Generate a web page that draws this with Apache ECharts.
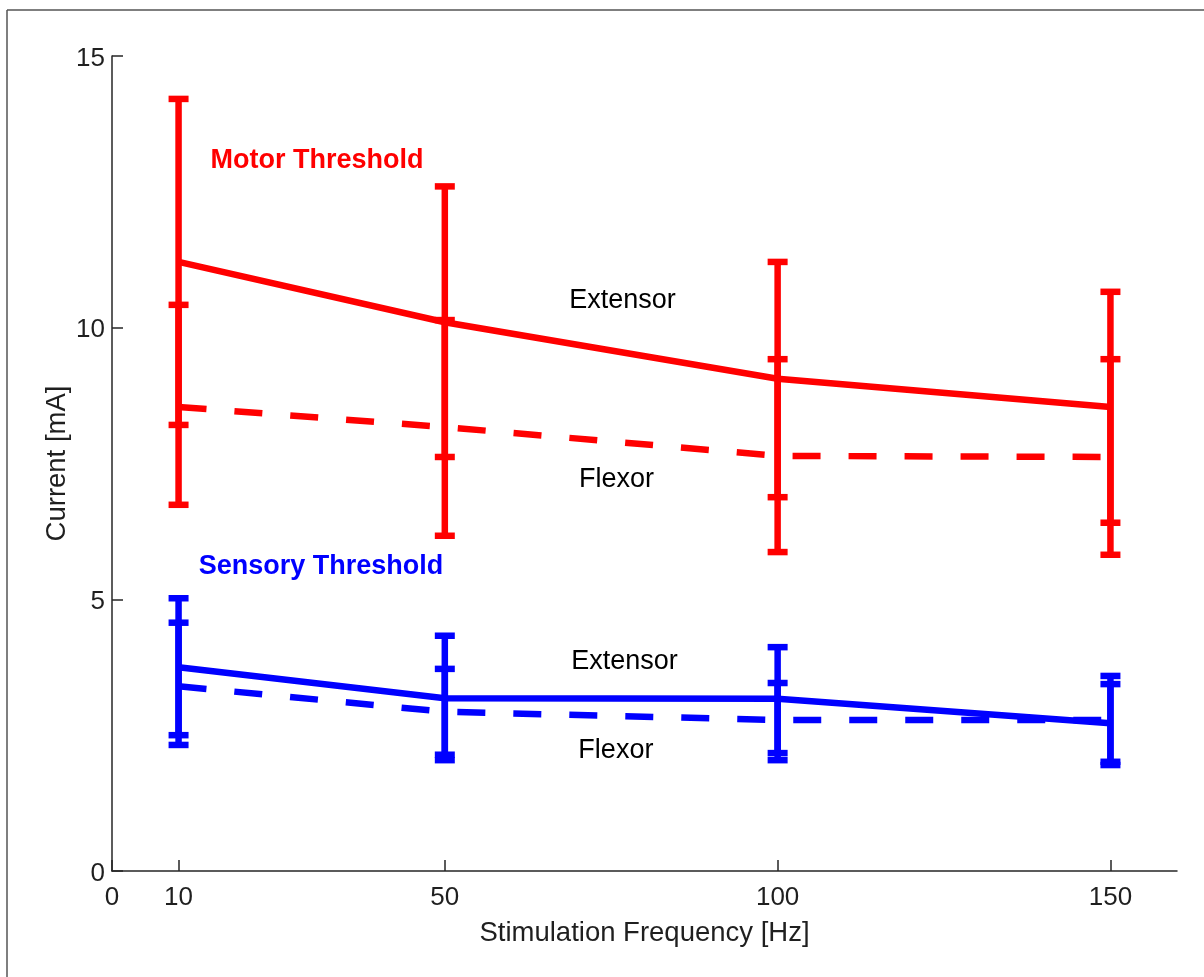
<!DOCTYPE html>
<html><head><meta charset="utf-8">
<script src="https://cdn.jsdelivr.net/npm/echarts@6/dist/echarts.min.js"></script>
<style>html,body{margin:0;padding:0;background:#fff}#c{width:1204px;height:977px}</style>
</head><body><div id="c"></div>
<script>
// ---- data ----
const freq = [10, 50, 100, 150];
const xTickValues = [0, 10, 50, 100, 150];

const motorExt      = [11.21, 10.10, 9.06, 8.54];
const motorExtHigh  = [14.21, 12.60, 11.21, 10.66];
const motorExtLow   = [8.21, 7.62, 6.88, 6.41];
const motorFlex     = [8.54, 8.17, 7.64, 7.62];
const motorFlexHigh = [10.42, 10.14, 9.42, 9.42];
const motorFlexLow  = [6.74, 6.17, 5.87, 5.82];

const sensExt       = [3.75, 3.18, 3.17, 2.72];
const sensExtHigh   = [5.02, 4.33, 4.12, 3.59];
const sensExtLow    = [2.50, 2.04, 2.17, 1.95];
const sensFlex      = [3.40, 2.93, 2.78, 2.78];
const sensFlexHigh  = [4.57, 3.72, 3.46, 3.44];
const sensFlexLow   = [2.32, 2.14, 2.04, 2.01];

const annoText = ['Motor Threshold', 'Extensor', 'Flexor', 'Sensory Threshold', 'Extensor', 'Flexor'];
const annoX    = [30.8, 76.7, 75.8, 31.4, 77.0, 75.7];
const annoY    = [13.08, 10.49, 7.21, 5.61, 3.85, 2.21];
const annoKind = ['motor', 'plain', 'plain', 'sensory', 'plain', 'plain'];

// ---- styles ----
const RED = '#ff0000', BLUE = '#0000ff', AX = '#262626', TXT = '#1f1f1f';
const FONT = '"Liberation Sans", Arial, Helvetica, sans-serif';
const LW = 6.5;

function pairs(xs, ys) { return xs.map((x, i) => [x, ys[i]]); }
function triples(xs, lo, hi) { return xs.map((x, i) => [x, lo[i], hi[i]]); }

function lineSeries(name, data, color, dashed) {
  return {
    name, type: 'line', data: pairs(freq, data), symbol: 'none', showSymbol: false,
    lineStyle: { color, width: LW, type: dashed ? [28, 28] : 'solid', cap: 'butt', join: 'miter' },
    silent: true, z: 3, animation: false
  };
}
function errSeries(name, lo, hi, color) {
  return {
    name, type: 'custom', data: triples(freq, lo, hi), z: 4, silent: true, animation: false,
    renderItem(params, api) {
      const x = api.value(0);
      const pLo = api.coord([x, api.value(1)]);
      const pHi = api.coord([x, api.value(2)]);
      const hw = 10;
      const st = { stroke: color, lineWidth: LW, lineCap: 'butt' };
      return {
        type: 'group', children: [
          { type: 'line', shape: { x1: pLo[0], y1: pLo[1], x2: pHi[0], y2: pHi[1] }, style: st },
          { type: 'line', shape: { x1: pLo[0] - hw, y1: pLo[1], x2: pLo[0] + hw, y2: pLo[1] }, style: st },
          { type: 'line', shape: { x1: pHi[0] - hw, y1: pHi[1], x2: pHi[0] + hw, y2: pHi[1] }, style: st }
        ]
      };
    }
  };
}

const annoData = annoText.map((t, i) => {
  const k = annoKind[i];
  return {
    value: [annoX[i], annoY[i]],
    label: {
      show: true, position: 'inside', formatter: t, fontFamily: FONT, opacity: 1,
      fontSize: 27, fontWeight: k === 'plain' ? 'normal' : 'bold',
      color: k === 'motor' ? RED : (k === 'sensory' ? BLUE : '#000')
    }
  };
});

const chart = echarts.init(document.getElementById('c'), null, { renderer: 'canvas' });
chart.setOption({
  backgroundColor: '#fff',
  animation: false,
  textStyle: { fontFamily: FONT },
  grid: { left: 112, top: 56, right: 27, bottom: 106, containLabel: false },
  graphic: [
    { type: 'line', shape: { x1: 7, y1: 10, x2: 1204, y2: 10 }, style: { stroke: '#555', lineWidth: 1.5 } },
    { type: 'line', shape: { x1: 7, y1: 10, x2: 7, y2: 977 }, style: { stroke: '#555', lineWidth: 1.5 } }
  ],
  xAxis: {
    type: 'value', min: 0, max: 160,
    name: 'Stimulation Frequency [Hz]', nameLocation: 'middle', nameGap: 48, nameMoveOverlap: false,
    nameTextStyle: { fontSize: 27.5, color: TXT, fontFamily: FONT },
    axisLine: { show: true, lineStyle: { color: AX, width: 1.5 } },
    axisTick: { show: true, inside: true, length: 11, customValues: xTickValues, lineStyle: { color: AX, width: 1.5 } },
    axisLabel: { show: true, customValues: xTickValues, fontSize: 26, color: TXT, margin: 14, fontFamily: FONT },
    splitLine: { show: false }
  },
  yAxis: {
    type: 'value', min: 0, max: 15, interval: 5,
    name: 'Current [mA]', nameLocation: 'middle', nameGap: 41, nameRotate: 90, nameMoveOverlap: false,
    nameTextStyle: { fontSize: 27.5, color: TXT, fontFamily: FONT },
    axisLine: { show: true, lineStyle: { color: AX, width: 1.5 } },
    axisTick: { show: true, inside: true, length: 11, lineStyle: { color: AX, width: 1.5 } },
    axisLabel: {
      show: true, margin: 7,
      formatter: v => '{a|' + v + '}',
      rich: { a: { fontSize: 26, color: TXT, fontFamily: FONT, padding: [5, 0, 0, 0] } }
    },
    splitLine: { show: false }
  },
  series: [
    lineSeries('Motor Extensor', motorExt, RED, false),
    lineSeries('Motor Flexor', motorFlex, RED, true),
    lineSeries('Sensory Extensor', sensExt, BLUE, false),
    lineSeries('Sensory Flexor', sensFlex, BLUE, true),
    errSeries('Motor Extensor SD', motorExtLow, motorExtHigh, RED),
    errSeries('Motor Flexor SD', motorFlexLow, motorFlexHigh, RED),
    errSeries('Sensory Extensor SD', sensExtLow, sensExtHigh, BLUE),
    errSeries('Sensory Flexor SD', sensFlexLow, sensFlexHigh, BLUE),
    {
      name: 'annotations', type: 'scatter', symbolSize: 0, data: annoData,
      itemStyle: { opacity: 1 }, silent: true, z: 5, animation: false
    }
  ]
});
</script>
</body></html>
